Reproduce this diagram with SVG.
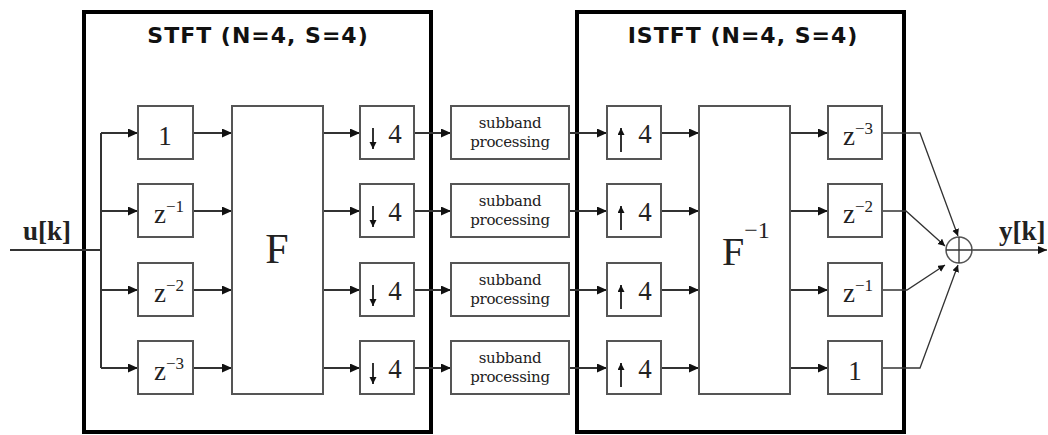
<svg xmlns="http://www.w3.org/2000/svg" width="1048" height="435" viewBox="0 0 1048 435">
<defs>
<marker id="ah" markerUnits="userSpaceOnUse" markerWidth="11" markerHeight="10" refX="10" refY="4.5" orient="auto"><path d="M0,0 L10,4.5 L0,9 z" fill="#111"/></marker>
<marker id="ahs" markerUnits="userSpaceOnUse" markerWidth="10" markerHeight="9" refX="9" refY="4" orient="auto"><path d="M0,0 L9,4 L0,8 z" fill="#111"/></marker>
<marker id="ahi" markerUnits="userSpaceOnUse" markerWidth="8" markerHeight="8" refX="7" refY="3.5" orient="auto"><path d="M0,0 L7,3.5 L0,7 z" fill="#111"/></marker>
<style>
.frame{fill:none;stroke:#000;stroke-width:4}
.box{fill:#fff;stroke:#555;stroke-width:2}
.w{fill:none;stroke:#333;stroke-width:2}
.d{fill:none;stroke:#333;stroke-width:1.3}
.t{font-family:"DejaVu Sans",Verdana,sans-serif;font-weight:bold;font-size:22px;letter-spacing:1px;fill:#111;text-anchor:middle}
.s{font-family:"Liberation Serif","Times New Roman",serif;fill:#222}
.n{font-size:27px;text-anchor:middle}
.sub{font-family:"DejaVu Serif",serif;font-size:15px;fill:#222;text-anchor:middle;letter-spacing:-0.3px}
.sig{font-family:"Liberation Serif",serif;font-size:27px;font-weight:bold;fill:#222}
</style>
</defs>

<g id="stft-frame"><rect class="frame" x="84" y="12" width="347" height="420"/><text class="t" x="258" y="43">STFT (N=4, S=4)</text></g>
<g id="istft-frame"><rect class="frame" x="577" y="12" width="327" height="420"/><text class="t" x="743" y="43">ISTFT (N=4, S=4)</text></g>

<g id="connectors">
<path class="w" d="M10,250 H101 M101,133 V368"/>
<path class="w" marker-end="url(#ah)" d="M101,133 H138"/>
<path class="w" marker-end="url(#ah)" d="M101,211 H138"/>
<path class="w" marker-end="url(#ah)" d="M101,290 H138"/>
<path class="w" marker-end="url(#ah)" d="M101,368 H138"/>
<path class="w" marker-end="url(#ah)" d="M193,133 H232"/>
<path class="w" marker-end="url(#ah)" d="M193,211 H232"/>
<path class="w" marker-end="url(#ah)" d="M193,290 H232"/>
<path class="w" marker-end="url(#ah)" d="M193,368 H232"/>
<path class="w" marker-end="url(#ah)" d="M323,133 H360"/>
<path class="w" marker-end="url(#ah)" d="M323,211 H360"/>
<path class="w" marker-end="url(#ah)" d="M323,290 H360"/>
<path class="w" marker-end="url(#ah)" d="M323,368 H360"/>
<path class="w" marker-end="url(#ah)" d="M414,133 H451"/>
<path class="w" marker-end="url(#ah)" d="M414,211 H451"/>
<path class="w" marker-end="url(#ah)" d="M414,290 H451"/>
<path class="w" marker-end="url(#ah)" d="M414,368 H451"/>
<path class="w" marker-end="url(#ah)" d="M569,133 H607"/>
<path class="w" marker-end="url(#ah)" d="M569,211 H607"/>
<path class="w" marker-end="url(#ah)" d="M569,290 H607"/>
<path class="w" marker-end="url(#ah)" d="M569,368 H607"/>
<path class="w" marker-end="url(#ah)" d="M661,133 H699"/>
<path class="w" marker-end="url(#ah)" d="M661,211 H699"/>
<path class="w" marker-end="url(#ah)" d="M661,290 H699"/>
<path class="w" marker-end="url(#ah)" d="M661,368 H699"/>
<path class="w" marker-end="url(#ah)" d="M790,133 H828"/>
<path class="w" marker-end="url(#ah)" d="M790,211 H828"/>
<path class="w" marker-end="url(#ah)" d="M790,290 H828"/>
<path class="w" marker-end="url(#ah)" d="M790,368 H828"/>
<path class="d" marker-end="url(#ahi)" d="M882,133 H920 L958,236"/>
<path class="d" marker-end="url(#ahi)" d="M882,211 H906 L945,246"/>
<path class="d" marker-end="url(#ahi)" d="M882,290 H907 L945,265"/>
<path class="d" marker-end="url(#ahi)" d="M882,368 H920 L958,265"/>
<path class="d" stroke-width="1.5" marker-end="url(#ahs)" d="M972,250 H1047"/>
</g>

<g id="input"><text class="sig" x="23" y="240">u[k]</text></g>

<g id="d0"><rect class="box" x="138" y="106" width="55" height="53"/><text class="s n" x="165" y="145">1</text></g>
<g id="d1"><rect class="box" x="138" y="184" width="55" height="53"/><text class="s" x="154" y="223" font-size="27">z<tspan dy="-11" font-size="17">−1</tspan></text></g>
<g id="d2"><rect class="box" x="138" y="263" width="55" height="53"/><text class="s" x="154" y="302" font-size="27">z<tspan dy="-11" font-size="17">−2</tspan></text></g>
<g id="d3"><rect class="box" x="138" y="341" width="55" height="53"/><text class="s" x="154" y="380" font-size="27">z<tspan dy="-11" font-size="17">−3</tspan></text></g>

<g id="F"><rect class="box" x="232" y="106" width="91" height="288"/><text class="s" x="277" y="263" font-size="42" text-anchor="middle">F</text></g>

<g id="down0"><rect class="box" x="360" y="106" width="54" height="53"/><path class="w" marker-end="url(#ahi)" d="M373,128 V149"/><text class="s n" x="395" y="143">4</text></g>
<g id="down1"><rect class="box" x="360" y="184" width="54" height="53"/><path class="w" marker-end="url(#ahi)" d="M373,206 V227"/><text class="s n" x="395" y="221">4</text></g>
<g id="down2"><rect class="box" x="360" y="263" width="54" height="53"/><path class="w" marker-end="url(#ahi)" d="M373,285 V306"/><text class="s n" x="395" y="300">4</text></g>
<g id="down3"><rect class="box" x="360" y="341" width="54" height="53"/><path class="w" marker-end="url(#ahi)" d="M373,363 V384"/><text class="s n" x="395" y="378">4</text></g>

<g id="sp0"><rect class="box" x="451" y="106" width="118" height="53"/><text class="sub" x="510" y="128">subband</text><text class="sub" x="510" y="147">processing</text></g>
<g id="sp1"><rect class="box" x="451" y="184" width="118" height="53"/><text class="sub" x="510" y="206">subband</text><text class="sub" x="510" y="225">processing</text></g>
<g id="sp2"><rect class="box" x="451" y="263" width="118" height="53"/><text class="sub" x="510" y="285">subband</text><text class="sub" x="510" y="304">processing</text></g>
<g id="sp3"><rect class="box" x="451" y="341" width="118" height="53"/><text class="sub" x="510" y="363">subband</text><text class="sub" x="510" y="382">processing</text></g>

<g id="up0"><rect class="box" x="607" y="106" width="54" height="53"/><path class="w" marker-end="url(#ahi)" d="M621,152 V128"/><text class="s n" x="645" y="143">4</text></g>
<g id="up1"><rect class="box" x="607" y="184" width="54" height="53"/><path class="w" marker-end="url(#ahi)" d="M621,230 V206"/><text class="s n" x="645" y="221">4</text></g>
<g id="up2"><rect class="box" x="607" y="263" width="54" height="53"/><path class="w" marker-end="url(#ahi)" d="M621,309 V285"/><text class="s n" x="645" y="300">4</text></g>
<g id="up3"><rect class="box" x="607" y="341" width="54" height="53"/><path class="w" marker-end="url(#ahi)" d="M621,387 V363"/><text class="s n" x="645" y="378">4</text></g>

<g id="Finv"><rect class="box" x="699" y="106" width="91" height="288"/><text class="s" x="722" y="265" font-size="40">F<tspan dy="-27" font-size="24">−1</tspan></text></g>

<g id="o0"><rect class="box" x="828" y="106" width="54" height="53"/><text class="s" x="843" y="145" font-size="27">z<tspan dy="-11" font-size="17">−3</tspan></text></g>
<g id="o1"><rect class="box" x="828" y="184" width="54" height="53"/><text class="s" x="843" y="223" font-size="27">z<tspan dy="-11" font-size="17">−2</tspan></text></g>
<g id="o2"><rect class="box" x="828" y="263" width="54" height="53"/><text class="s" x="843" y="302" font-size="27">z<tspan dy="-11" font-size="17">−1</tspan></text></g>
<g id="o3"><rect class="box" x="828" y="341" width="54" height="53"/><text class="s n" x="855" y="380">1</text></g>

<g id="sum"><circle cx="959" cy="250" r="13" fill="#fff" stroke="#555" stroke-width="1.5"/><path d="M946,250 H972 M959,237 V263" stroke="#333" stroke-width="1.3"/></g>

<g id="output"><text class="sig" x="999" y="240">y[k]</text></g>
</svg>
